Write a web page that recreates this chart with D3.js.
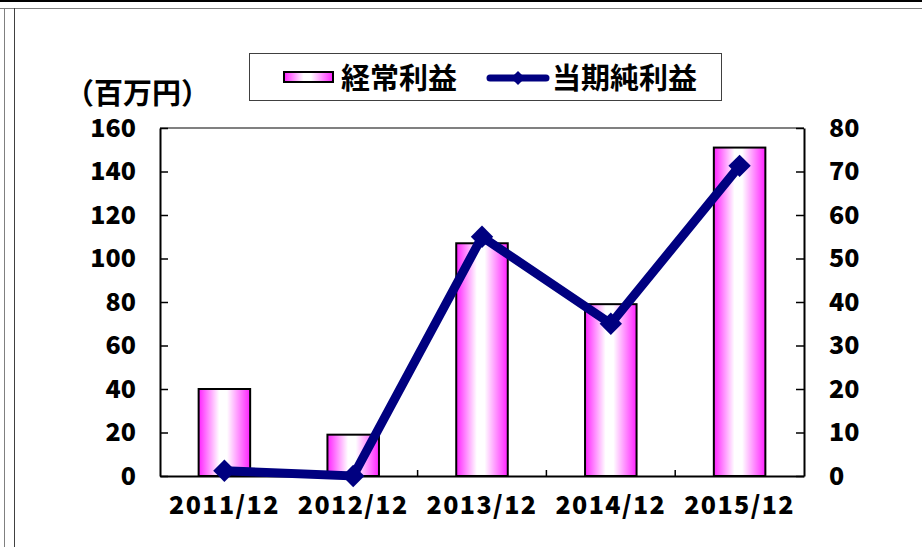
<html>

<head>
  <meta charset="UTF-8">
  <title>経常利益・当期純利益</title>
  <script src="https://d3js.org/d3.v7.min.js"></script>
  <style>
    body {
      margin: 0;
      background-color: white;
    }
    svg text {
      font-family: "Noto Sans CJK JP", "Liberation Sans", sans-serif;
      font-weight: bold;
      fill: black;
    }
  </style>
</head>

<body>
  <svg></svg>
</body>

<script>
  // data
  let years = ["2011/12", "2012/12", "2013/12", "2014/12", "2015/12"];
  let ordinaryProfit = [40, 19, 107, 79, 151];   // 経常利益 (left axis)
  let netIncome = [1.2, 0, 55, 35, 71.3];        // 当期純利益 (right axis)
  let leftTicks = [0, 20, 40, 60, 80, 100, 120, 140, 160];
  let rightTicks = [0, 10, 20, 30, 40, 50, 60, 70, 80];

  let width = 922,
    height = 547;

  let svg = d3.select("svg")
    .attr("width", width)
    .attr("height", height);

  let defs = svg.append("defs");
  let grad = defs.append("linearGradient")
    .attr("id", "barGrad")
    .attr("x1", "0%").attr("x2", "100%")
    .attr("y1", "0%").attr("y2", "0%");
  grad.append("stop").attr("offset", "0%").attr("stop-color", "#ff22ff");
  grad.append("stop").attr("offset", "40%").attr("stop-color", "#ffffff");
  grad.append("stop").attr("offset", "55%").attr("stop-color", "#ffffff");
  grad.append("stop").attr("offset", "100%").attr("stop-color", "#ff22ff");

  // outer frame lines
  svg.append("rect").attr("x", 0).attr("y", 0).attr("width", width).attr("height", 2).attr("fill", "black");
  svg.append("line").attr("x1", 0).attr("x2", width).attr("y1", 8.5).attr("y2", 8.5)
    .attr("stroke", "#808080").attr("stroke-width", 1);
  svg.append("line").attr("x1", 4.5).attr("x2", 4.5).attr("y1", 8).attr("y2", height)
    .attr("stroke", "#808080").attr("stroke-width", 1);
  svg.append("line").attr("x1", 14.5).attr("x2", 14.5).attr("y1", 8).attr("y2", height)
    .attr("stroke", "#404040").attr("stroke-width", 1);

  let plotLeft = 160, plotRight = 804, plotTop = 128, plotBottom = 476;

  let x = d3.scaleBand()
    .domain(years)
    .range([plotLeft, plotRight])
    .paddingInner(0.6)
    .paddingOuter(0.3);
  let step = x.step();

  let yL = d3.scaleLinear().domain([0, 160]).range([plotBottom, plotTop]);
  let yR = d3.scaleLinear().domain([0, 80]).range([plotBottom, plotTop]);

  // plot area top border
  svg.append("line")
    .attr("x1", plotLeft).attr("x2", plotRight)
    .attr("y1", plotTop).attr("y2", plotTop)
    .attr("stroke", "#808080").attr("stroke-width", 2);

  // bars
  svg.append("g")
    .selectAll("rect")
    .data(ordinaryProfit)
    .enter()
    .append("rect")
    .attr("x", (d, i) => x(years[i]))
    .attr("y", d => yL(d))
    .attr("width", x.bandwidth())
    .attr("height", d => yL(0) - yL(d))
    .attr("fill", "url(#barGrad)")
    .attr("stroke", "black")
    .attr("stroke-width", 2);

  // left axis
  let axL = svg.append("g")
    .attr("transform", "translate(" + plotLeft + ",0)")
    .call(d3.axisLeft(yL).tickValues(leftTicks).tickSizeInner(-8).tickSizeOuter(0).tickPadding(24));
  // right axis
  let axR = svg.append("g")
    .attr("transform", "translate(" + plotRight + ",0)")
    .call(d3.axisRight(yR).tickValues(rightTicks).tickSizeInner(-8).tickSizeOuter(0).tickPadding(25));
  // bottom axis
  let axB = svg.append("g")
    .attr("transform", "translate(0," + plotBottom + ")")
    .call(d3.axisBottom(x).tickSize(0).tickSizeOuter(0).tickPadding(20));

  [axL, axR, axB].forEach(ax => {
    ax.select(".domain").attr("stroke", "black").attr("stroke-width", 2);
    ax.selectAll(".tick line").attr("stroke", "black").attr("stroke-width", 1.5);
    ax.selectAll("text")
      .style("font-family", "'Noto Sans CJK JP', sans-serif")
      .style("font-weight", "900")
      .style("font-size", "25px")
      .attr("fill", "black");
  });
  axB.selectAll("text")
    .attr("dy", "0.71em")
    .style("letter-spacing", "1.4px");

  // category separators on the bottom axis
  svg.append("g")
    .selectAll("line")
    .data(years.slice(1))
    .enter()
    .append("line")
    .attr("x1", d => x(d) - step * 0.3)
    .attr("x2", d => x(d) - step * 0.3)
    .attr("y1", plotBottom)
    .attr("y2", plotBottom - 6)
    .attr("stroke", "black")
    .attr("stroke-width", 1.5);

  // net income line
  let line = d3.line()
    .x((d, i) => x(years[i]) + x.bandwidth() / 2)
    .y(d => yR(d));

  svg.append("path")
    .datum(netIncome)
    .attr("d", line)
    .attr("fill", "none")
    .attr("stroke", "#000080")
    .attr("stroke-width", 9)
    .attr("stroke-linejoin", "miter");

  svg.append("g")
    .selectAll("path")
    .data(netIncome)
    .enter()
    .append("path")
    .attr("d", d3.symbol().type(d3.symbolSquare).size(250))
    .attr("transform", (d, i) => "translate(" + (x(years[i]) + x.bandwidth() / 2) + "," + yR(d) + ") rotate(45)")
    .attr("fill", "#000080");

  // unit label
  svg.append("text")
    .attr("x", 65)
    .attr("y", 104)
    .style("font-size", "29px")
    .text("（百万円）");

  // legend
  let legend = svg.append("g");
  legend.append("rect")
    .attr("x", 249.5).attr("y", 53.5)
    .attr("width", 472).attr("height", 47)
    .attr("fill", "white")
    .attr("stroke", "#404040")
    .attr("stroke-width", 1);
  legend.append("rect")
    .attr("x", 284).attr("y", 72)
    .attr("width", 49).attr("height", 10)
    .attr("fill", "url(#barGrad)")
    .attr("stroke", "black")
    .attr("stroke-width", 2);
  legend.append("text")
    .attr("x", 341).attr("y", 89)
    .style("font-size", "29px")
    .text("経常利益");
  legend.append("line")
    .attr("x1", 490).attr("x2", 546)
    .attr("y1", 78).attr("y2", 78)
    .attr("stroke", "#000080")
    .attr("stroke-width", 7)
    .attr("stroke-linecap", "round");
  legend.append("path")
    .attr("d", d3.symbol().type(d3.symbolSquare).size(100))
    .attr("transform", "translate(518,78) rotate(45)")
    .attr("fill", "#000080");
  legend.append("text")
    .attr("x", 552).attr("y", 89)
    .style("font-size", "29px")
    .text("当期純利益");
</script>
</html>
